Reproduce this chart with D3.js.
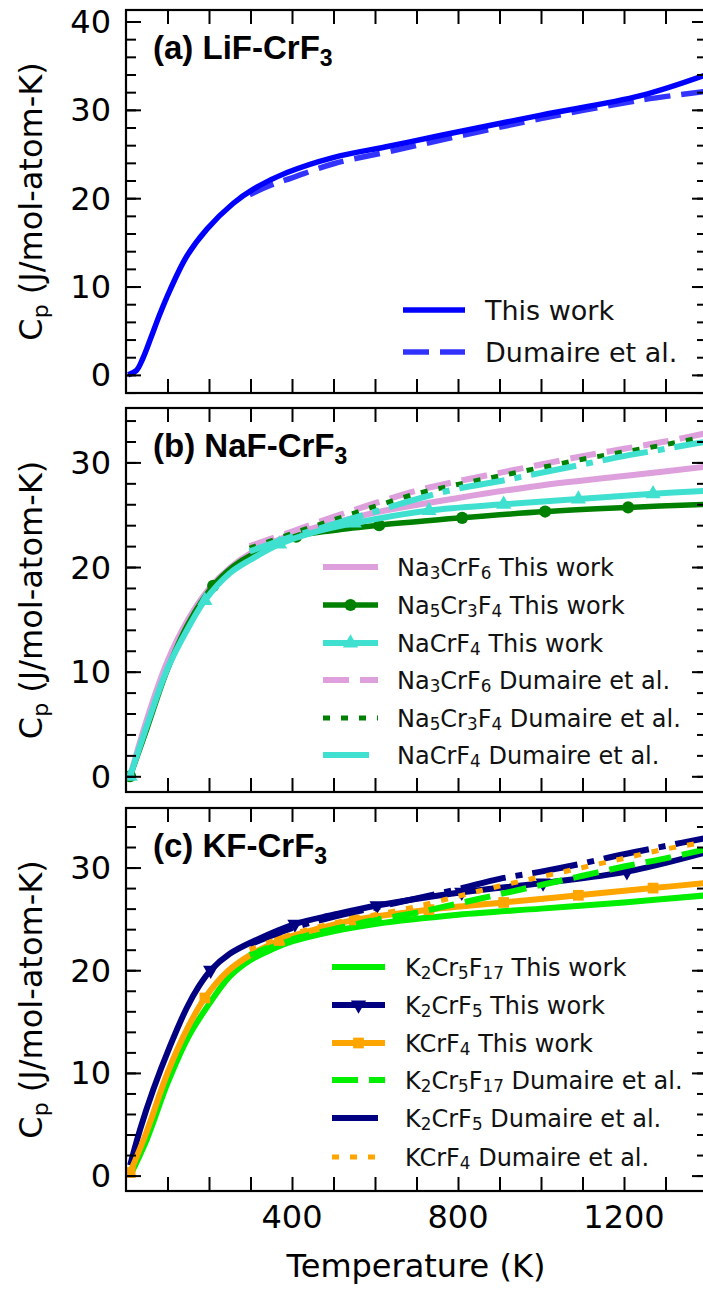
<!DOCTYPE html>
<html><head><meta charset="utf-8">
<script src="https://cdn.jsdelivr.net/npm/d3@7"></script>
<style>body{margin:0;background:#fff}svg{display:block}</style>
</head><body>
<svg id="chart" width="703" height="1289"></svg>
<script>
// ---------------- DATA ----------------
// Panel (a) LiF-CrF3
const aThisT  = [5, 25, 40, 60, 80, 106, 146, 195, 258, 306, 388, 499, 636, 757, 1000, 1240, 1400];
const aThisCp = [0.0, 0.5, 1.8, 4.2, 6.7, 9.6, 13.4, 16.5, 19.4, 21.0, 22.9, 24.6, 25.9, 27.1, 29.4, 31.6, 34.0];
const aDumT   = [298, 350, 400, 500, 636, 800, 1000, 1240, 1400];
const aDumCp  = [20.4, 21.5, 22.3, 23.9, 25.3, 27.0, 29.0, 31.1, 32.1];

// Panel (b) NaF-CrF3
const bNa3ThisT  = [10, 50, 100, 150, 200, 250, 300, 400, 500, 600, 800, 1000, 1200, 1400];
const bNa3ThisCp = [0, 5.4, 11.0, 15.0, 17.9, 19.9, 21.3, 23.1, 24.2, 25.2, 26.6, 27.8, 28.7, 29.6];
const bNa5ThisT  = [10, 50, 100, 150, 210, 260, 300, 410, 500, 610, 810, 1010, 1210, 1400];
const bNa5ThisCp = [0, 4.5, 10.2, 14.6, 18.2, 20.1, 21.1, 22.9, 23.5, 24.0, 24.7, 25.3, 25.7, 26.0];
const bNa5Marks  = [10, 210, 410, 610, 810, 1010, 1210];
const bNaCrThisT  = [10, 50, 100, 150, 190, 250, 300, 370, 450, 550, 730, 910, 1090, 1270, 1400];
const bNaCrThisCp = [0, 4.8, 10.3, 14.2, 16.8, 19.4, 20.7, 22.2, 23.3, 24.2, 25.4, 26.0, 26.5, 27.0, 27.3];
const bNaCrMarks  = [10, 190, 370, 550, 730, 910, 1090, 1270];
const bDumT       = [298, 400, 500, 600, 700, 800, 900, 1000, 1100, 1200, 1300, 1400];
const bNa3DumCp   = [22.0, 23.4, 24.8, 26.1, 27.3, 28.2, 29.0, 29.8, 30.6, 31.3, 32.0, 32.8];
const bNa5DumCp   = [21.8, 23.2, 24.5, 25.8, 27.0, 27.9, 28.7, 29.5, 30.3, 31.0, 31.7, 32.5];
const bNaCrDumCp  = [21.5, 22.9, 24.1, 25.3, 26.5, 27.5, 28.2, 29.0, 29.8, 30.6, 31.3, 32.0];

// Panel (c) KF-CrF3
const cK2Cr5ThisT  = [10, 50, 100, 150, 200, 250, 300, 350, 400, 500, 600, 800, 1000, 1200, 1400];
const cK2Cr5ThisCp = [0, 3.5, 9.0, 13.5, 16.7, 19.4, 21.0, 22.0, 22.8, 23.8, 24.5, 25.4, 26.0, 26.6, 27.3];
const cK2CrThisT   = [10, 34, 66, 106, 146, 175, 204, 250, 306, 407, 500, 605, 809, 1005, 1207, 1400];
const cK2CrThisCp  = [1.0, 4.5, 8.4, 12.6, 16.3, 18.4, 20.0, 21.6, 22.8, 24.5, 25.4, 26.3, 27.6, 28.5, 29.6, 31.5];
const cK2CrMarks   = [204, 407, 605, 809, 1005, 1207];
const cKCrThisT    = [10, 50, 100, 150, 190, 245, 300, 370, 450, 550, 730, 910, 1090, 1270, 1400];
const cKCrThisCp   = [0.3, 4.3, 10.0, 14.5, 17.3, 19.9, 21.5, 22.9, 23.9, 24.9, 25.9, 26.6, 27.3, 28.0, 28.5];
const cKCrMarks    = [10, 190, 370, 550, 730, 910, 1090, 1270];
const cDumT        = [298, 400, 500, 600, 700, 800, 900, 1000, 1100, 1200, 1300, 1400];
const cK2Cr5DumCp  = [21.5, 23.0, 24.0, 24.9, 25.6, 26.5, 27.4, 28.3, 29.2, 30.1, 30.9, 31.8];
const cK2CrDumCp   = [22.5, 24.1, 25.2, 26.1, 27.0, 27.9, 28.9, 29.6, 30.4, 31.3, 32.1, 32.9];
const cKCrDumCp    = [22.0, 23.5, 24.6, 25.4, 26.2, 27.2, 28.2, 29.1, 30.0, 30.9, 31.8, 32.5];

const xTickLabels = [400, 800, 1200];
const aYTicks = [0, 10, 20, 30, 40];
const bcYTicks = [0, 10, 20, 30];

// ---------------- BUILD ----------------
const svg = d3.select("#chart");
const FONT = "'DejaVu Sans', sans-serif";
const zip = (T, C) => T.map((t, i) => ({T: t, Cp: C[i]}));

const DASH = "26,11", DOT = "7,11", DASHDOT = "46,10,7,10";

const panels = [
  { id: "a", top: 10, bottom: 393, dom: [-2.05, 41.3], yt: aYTicks,
    title: ["(a) LiF-CrF", "3"], legX: [403, 465, 485], legY: [310, 352], legFs: 27,
    series: [
      {label: "This work", data: zip(aThisT, aThisCp), color: "#0000ff", w: 5.5, dash: null},
      {label: "Dumaire et al.", data: zip(aDumT, aDumCp), color: "#0000ff", w: 5.5, dash: DASH, op: 0.8},
    ]},
  { id: "b", top: 408, bottom: 792, dom: [-1.5, 35.2], yt: bcYTicks,
    title: ["(b) NaF-CrF", "3"], legX: [323, 378, 397], legY: [567, 605, 643, 680, 718, 755], legFs: 24,
    series: [
      {label: "Na3CrF6 This work", data: zip(bNa3ThisT, bNa3ThisCp), color: "#dda0dd", w: 6},
      {label: "Na5Cr3F4 This work", data: zip(bNa5ThisT, bNa5ThisCp), color: "#008000", w: 5.5, marker: "circle", marks: bNa5Marks},
      {label: "NaCrF4 This work", data: zip(bNaCrThisT, bNaCrThisCp), color: "#40e0d0", w: 6, marker: "triUp", marks: bNaCrMarks},
      {label: "Na3CrF6 Dumaire et al.", data: zip(bDumT, bNa3DumCp), color: "#dda0dd", w: 6, dash: DASH},
      {label: "Na5Cr3F4 Dumaire et al.", data: zip(bDumT, bNa5DumCp), color: "#008000", w: 5, dash: DOT},
      {label: "NaCrF4 Dumaire et al.", data: zip(bDumT, bNaCrDumCp), color: "#40e0d0", w: 6, dash: DASHDOT},
    ]},
  { id: "c", top: 808, bottom: 1191, dom: [-1.5, 35.8], yt: bcYTicks,
    title: ["(c) KF-CrF", "3"], legX: [332, 385, 405], legY: [967, 1005, 1043, 1080, 1118, 1157], legFs: 24,
    series: [
      {label: "K2Cr5F17 This work", data: zip(cK2Cr5ThisT, cK2Cr5ThisCp), color: "#00ee00", w: 6},
      {label: "K2CrF5 This work", data: zip(cK2CrThisT, cK2CrThisCp), color: "#000080", w: 6, marker: "triDown", marks: cK2CrMarks},
      {label: "KCrF4 This work", data: zip(cKCrThisT, cKCrThisCp), color: "#ffa500", w: 6, marker: "square", marks: cKCrMarks},
      {label: "K2Cr5F17 Dumaire et al.", data: zip(cDumT, cK2Cr5DumCp), color: "#00ee00", w: 6, dash: DASH},
      {label: "K2CrF5 Dumaire et al.", data: zip(cDumT, cK2CrDumCp), color: "#000080", w: 6, dash: DASHDOT},
      {label: "KCrF4 Dumaire et al.", data: zip(cDumT, cKCrDumCp), color: "#ffa500", w: 5, dash: DOT},
    ]},
];

const x = d3.scaleLinear().domain([0, 1400]).range([126, 707]);

function markerPath(type) {
  if (type === "circle") return d3.symbol(d3.symbolCircle, 115)();
  if (type === "square") return d3.symbol(d3.symbolSquare, 115)();
  if (type === "triUp" || type === "triDown") return d3.symbol(d3.symbolTriangle, 100)();
  return null;
}

function addChem(textSel, label, fs) {
  const idx = label.search(/ (This|Dumaire)/);
  const formula = idx >= 0 ? label.slice(0, idx) : "";
  const rest = idx >= 0 ? label.slice(idx) : label;
  const parts = formula.match(/[A-Za-z]+|\d+/g) || [];
  let sub = false;
  parts.forEach(p => {
    const isNum = /^\d+$/.test(p);
    const t = textSel.append("tspan").text(p);
    if (isNum) { t.attr("font-size", fs * 0.7).attr("dy", sub ? 0 : fs * 0.16); sub = true; }
    else { if (sub) t.attr("dy", -fs * 0.16); sub = false; }
  });
  const t2 = textSel.append("tspan").text(rest);
  if (sub) t2.attr("dy", -fs * 0.16);
}

panels.forEach((p, pi) => {
  const y = d3.scaleLinear().domain(p.dom).range([p.bottom, p.top]);
  const g = svg.append("g");
  const clipId = "clip" + p.id;
  svg.append("clipPath").attr("id", clipId).append("rect")
    .attr("x", 126).attr("y", p.top).attr("width", 581).attr("height", p.bottom - p.top);

  const line = d3.line().x(d => x(d.T)).y(d => y(d.Cp)).curve(d3.curveCatmullRom.alpha(0.5));
  const lg = g.append("g").attr("clip-path", `url(#${clipId})`);
  p.series.forEach(s => {
    lg.append("path").datum(s.data).attr("d", line)
      .attr("fill", "none").attr("stroke", s.color).attr("stroke-width", s.w)
      .attr("stroke-dasharray", s.dash || null).attr("opacity", s.op || 1)
      .attr("stroke-linejoin", "round");
    if (s.marker) {
      const pts = s.data.filter(d => s.marks.includes(d.T));
      lg.selectAll(null).data(pts).join("path")
        .attr("d", markerPath(s.marker))
        .attr("transform", d => `translate(${x(d.T)},${y(d.Cp)})${s.marker === "triDown" ? " rotate(180)" : ""}`)
        .attr("fill", s.color);
    }
  });

  const minorY = d3.range(-10, 60, 2).filter(v => v >= p.dom[0] && v <= p.dom[1]);
  const xt = d3.range(100, 1400, 100);
  const ax = g.append("g");
  const yL = d3.axisLeft(y).tickValues(minorY).tickSize(-10).tickFormat("");
  const yLMaj = d3.axisLeft(y).tickValues(p.yt).tickSize(-15).tickFormat("");
  const yR = d3.axisRight(y).tickValues(minorY).tickSize(-10).tickFormat("");
  const yRMaj = d3.axisRight(y).tickValues(p.yt).tickSize(-15).tickFormat("");
  const xB = d3.axisBottom(x).tickValues(xt).tickSize(-14).tickFormat("");
  const xT = d3.axisTop(x).tickValues(xt).tickSize(-14).tickFormat("");
  [[yL, `translate(126,0)`], [yLMaj, `translate(126,0)`], [yR, `translate(707,0)`], [yRMaj, `translate(707,0)`],
   [xB, `translate(0,${p.bottom})`], [xT, `translate(0,${p.top})`]].forEach(([a, tr]) => {
    const gg = ax.append("g").attr("transform", tr).call(a);
    gg.select(".domain").remove();
    gg.selectAll("line").attr("stroke", "#000").attr("stroke-width", 2);
  });
  g.append("rect").attr("x", 126).attr("y", p.top).attr("width", 581).attr("height", p.bottom - p.top)
    .attr("fill", "none").attr("stroke", "#000").attr("stroke-width", 2.2);

  g.append("g").selectAll("text").data(p.yt).join("text")
    .attr("x", 111).attr("y", d => y(d) + 11.5).attr("text-anchor", "end")
    .attr("font-family", FONT).attr("font-size", 32).attr("fill", "#000").text(d => d);

  const yl = g.append("text").attr("transform", `translate(42,${(p.top + p.bottom) / 2}) rotate(-90)`)
    .attr("text-anchor", "middle").attr("font-family", FONT).attr("font-size", 32).attr("fill", "#000");
  yl.append("tspan").text("C");
  yl.append("tspan").text("p").attr("font-size", 22).attr("dy", 6);
  yl.append("tspan").text(" (J/mol-atom-K)").attr("dy", -6);

  const tt = g.append("text").attr("x", 153).attr("y", p.top + 49)
    .attr("font-family", "'Liberation Sans', Arial, sans-serif").attr("font-weight", "bold")
    .attr("font-size", 33).attr("fill", "#000");
  tt.append("tspan").text(p.title[0]);
  tt.append("tspan").text(p.title[1]).attr("font-size", 23).attr("dy", 7);

  p.series.forEach((s, i) => {
    const ly = p.legY[i];
    const [x0, x1, tx] = p.legX;
    g.append("line").attr("x1", x0).attr("x2", x1).attr("y1", ly).attr("y2", ly)
      .attr("stroke", s.color).attr("stroke-width", s.w).attr("opacity", s.op || 1)
      .attr("stroke-dasharray", s.dash || null);
    if (s.marker) {
      g.append("path").attr("d", markerPath(s.marker))
        .attr("transform", `translate(${(x0 + x1) / 2},${ly})${s.marker === "triDown" ? " rotate(180)" : ""}`)
        .attr("fill", s.color);
    }
    const t = g.append("text").attr("x", tx).attr("y", ly + p.legFs * 0.36)
      .attr("font-family", FONT).attr("font-size", p.legFs).attr("fill", "#111");
    addChem(t, s.label, p.legFs);
  });

  if (pi === panels.length - 1) {
    g.append("g").selectAll("text").data(xTickLabels).join("text")
      .attr("x", d => x(d)).attr("y", p.bottom + 37).attr("text-anchor", "middle")
      .attr("font-family", FONT).attr("font-size", 32).attr("fill", "#000").text(d => d);
    g.append("text").attr("x", 416).attr("y", 1277).attr("text-anchor", "middle")
      .attr("font-family", FONT).attr("font-size", 32).attr("fill", "#000").text("Temperature (K)");
  }
});
</script>
</body></html>
